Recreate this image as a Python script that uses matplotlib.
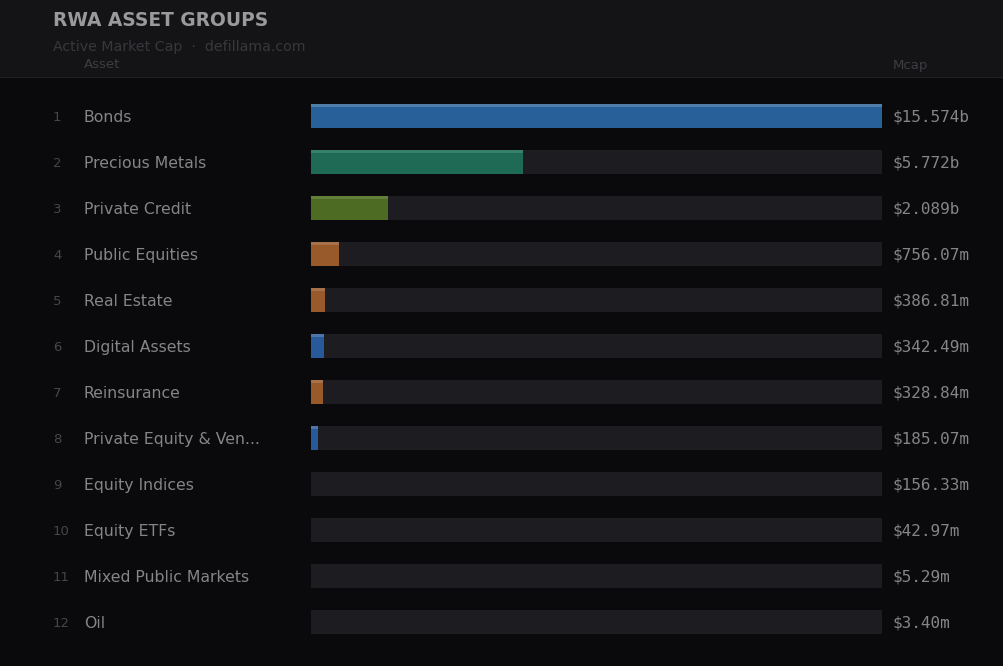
import matplotlib.pyplot as plt
from matplotlib.patches import Rectangle
from matplotlib.transforms import blended_transform_factory

# data
assets = ['Bonds', 'Precious Metals', 'Private Credit', 'Public Equities',
          'Real Estate', 'Digital Assets', 'Reinsurance',
          'Private Equity & Ven...', 'Equity Indices', 'Equity ETFs',
          'Mixed Public Markets', 'Oil']
mcap = [15.574e9, 5.772e9, 2.089e9, 756.07e6, 386.81e6, 342.49e6,
        328.84e6, 185.07e6, 156.33e6, 42.97e6, 5.29e6, 3.40e6]
mcap_labels = ['$15.574b', '$5.772b', '$2.089b', '$756.07m', '$386.81m',
               '$342.49m', '$328.84m', '$185.07m', '$156.33m', '$42.97m',
               '$5.29m', '$3.40m']

W, H = 1004, 666
BG = '#0a0a0d'
HEADER = '#141417'
TRACK = '#1d1d21'

bar_colors = ['#28609a', '#1e6a55', '#4d6b22', '#98592b', '#98592b',
              '#28599a', '#98592b', '#28599a', TRACK, TRACK, TRACK, TRACK]
top_colors = ['#4f7ea8', '#37806a', '#62803a', '#a8714a', '#a8714a',
              '#4f74a8', '#a8714a', '#4f74a8', TRACK, TRACK, TRACK, TRACK]

fig = plt.figure(figsize=(W / 100, H / 100), dpi=100)
fig.patch.set_facecolor(BG)

# header band
fig.add_artist(Rectangle((0, 1 - 77 / H), 1, 77 / H, transform=fig.transFigure,
                         facecolor=HEADER, edgecolor='none', zorder=0))
fig.add_artist(Rectangle((0, 1 - 78 / H), 1, 1.5 / H, transform=fig.transFigure,
                         facecolor='#202024', edgecolor='none', zorder=0))

fig.text(53 / W, 1 - 21 / H, 'RWA ASSET GROUPS', color='#9a9a9d',
         fontsize=13.4, fontweight='bold', va='center', ha='left')
fig.text(53 / W, 1 - 47 / H, 'Active Market Cap  \u00b7  defillama.com',
         color='#38383c', fontsize=10.2, va='center', ha='left')
fig.text(84 / W, 1 - 65 / H, 'Asset', color='#3d3d42', fontsize=9.5,
         va='center', ha='left')
fig.text(893 / W, 1 - 65 / H, 'Mcap', color='#3d3d42', fontsize=9.5,
         va='center', ha='left')

# bar area: rows 46 px apart, first centre at y=116
row_h = 46
top_px = 116 - row_h / 2
n = len(assets)
ax = fig.add_axes([311 / W, 1 - (top_px + n * row_h) / H,
                   571 / W, n * row_h / H])
ax.set_facecolor('none')
ax.set_xlim(0, max(mcap))
ax.set_ylim(n - 0.5, -0.5)
ax.axis('off')

ys = list(range(n))
bh = 24 / row_h
strip = 3 / row_h
ax.barh(ys, [max(mcap)] * n, height=bh, color=TRACK, zorder=1)
ax.barh(ys, mcap, height=bh, color=bar_colors, zorder=2)
ax.barh([y - bh / 2 + strip / 2 for y in ys], mcap, height=strip,
        color=top_colors, zorder=3)

# texts sit ~1.5px below the bar centre
dy = 1.5 / row_h
tr = blended_transform_factory(fig.transFigure, ax.transData)
for i, (name, lab) in enumerate(zip(assets, mcap_labels)):
    ax.text(53 / W, i + dy, str(i + 1), transform=tr, color='#45454a',
            fontsize=9.5, va='center', ha='left')
    ax.text(84 / W, i + dy, name, transform=tr, color='#858588',
            fontsize=11.3, va='center', ha='left')
    ax.text(893 / W, i + dy, lab, transform=tr, color='#858588',
            fontsize=11.5, family='DejaVu Sans Mono', va='center', ha='left')

fig.savefig('out.png', dpi=100, facecolor=BG)
